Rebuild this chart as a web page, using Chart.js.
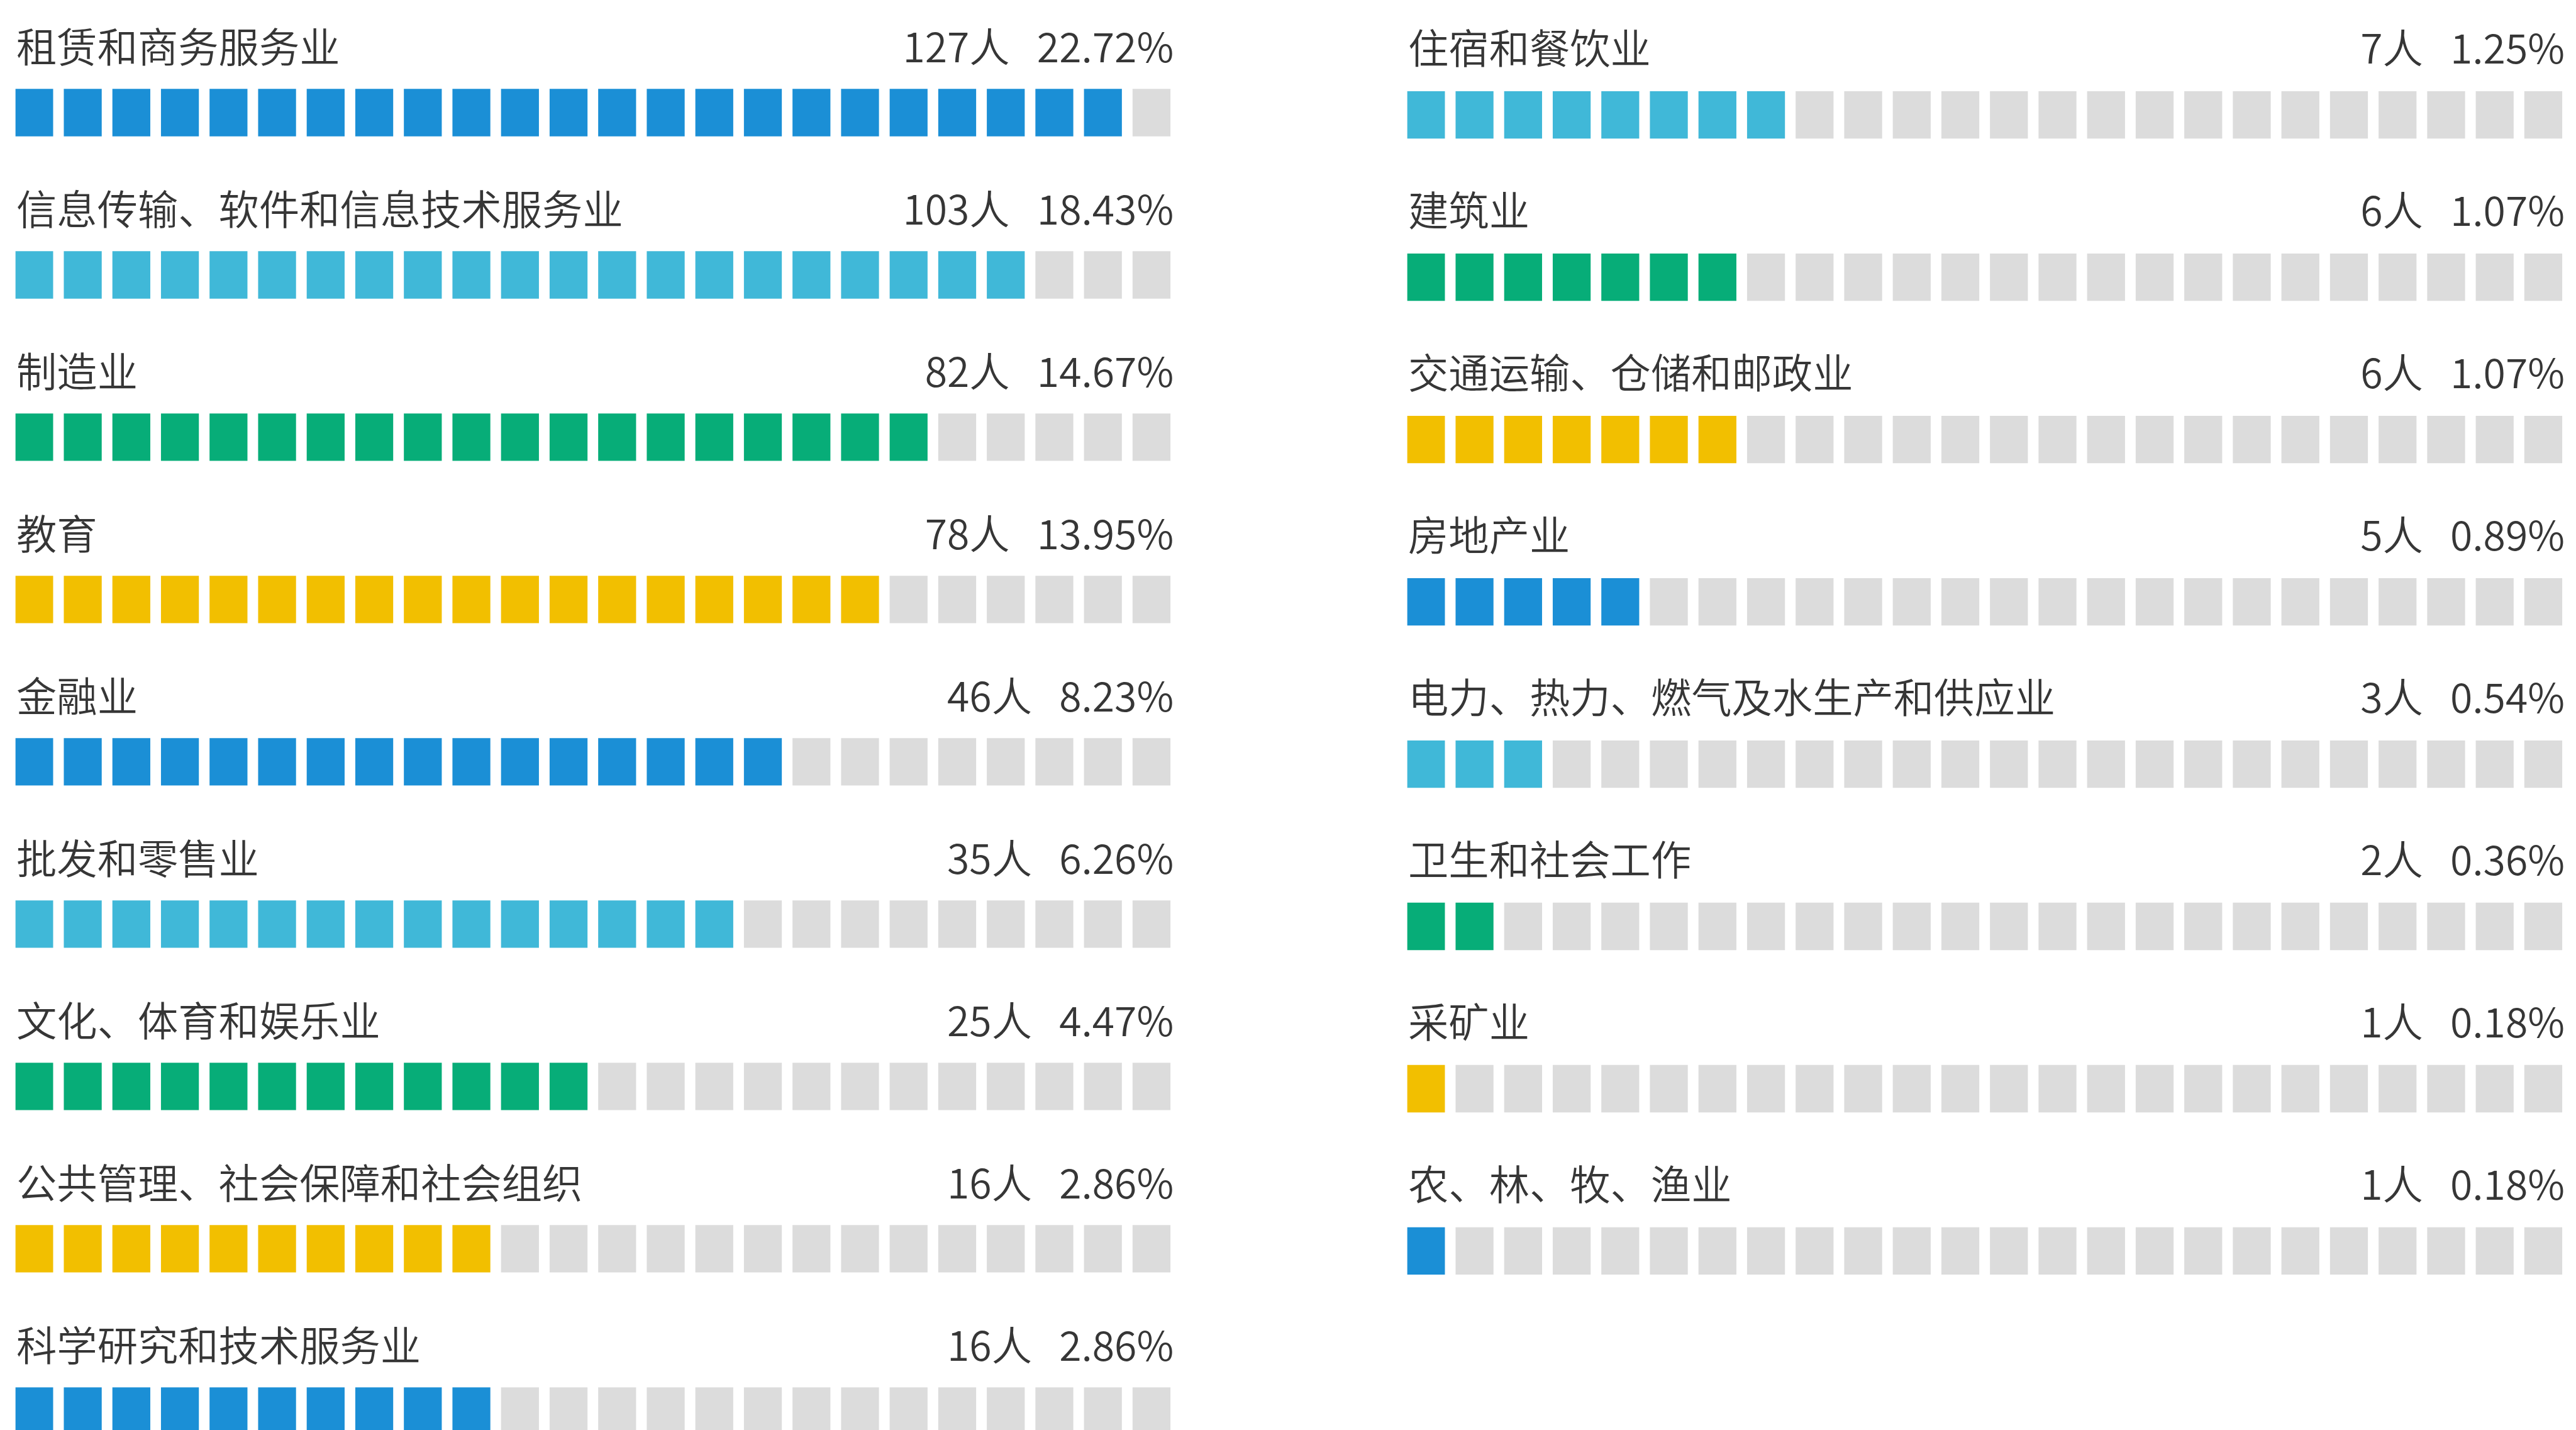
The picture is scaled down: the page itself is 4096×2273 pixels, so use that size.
<!DOCTYPE html>
<html>
<head>
<meta charset="utf-8">
<script src="https://cdn.jsdelivr.net/npm/chart.js@4.4.1/dist/chart.umd.min.js"></script>
<style>
html, body { margin: 0; padding: 0; background: #ffffff; overflow: hidden; width: 4096px; height: 2273px; }
canvas { position: absolute; top: 0; }
</style>
</head>
<body>
<canvas id="leftCol"></canvas>
<canvas id="rightCol"></canvas>
<script>
// ---------------- data ----------------
const leftLabels = ['租赁和商务服务业', '信息传输、软件和信息技术服务业', '制造业', '教育', '金融业', '批发和零售业', '文化、体育和娱乐业', '公共管理、社会保障和社会组织', '科学研究和技术服务业'];
const leftCounts = [127, 103, 82, 78, 46, 35, 25, 16, 16];
const leftPercents = [22.72, 18.43, 14.67, 13.95, 8.23, 6.26, 4.47, 2.86, 2.86];
const leftFilled = [23, 21, 19, 18, 16, 15, 12, 10, 10];

const rightLabels = ['住宿和餐饮业', '建筑业', '交通运输、仓储和邮政业', '房地产业', '电力、热力、燃气及水生产和供应业', '卫生和社会工作', '采矿业', '农、林、牧、渔业'];
const rightCounts = [7, 6, 6, 5, 3, 2, 1, 1];
const rightPercents = [1.25, 1.07, 1.07, 0.89, 0.54, 0.36, 0.18, 0.18];
const rightFilled = [8, 7, 7, 5, 3, 2, 1, 1];

const squaresPerRow = 24;
const countUnit = '人';

// ---------------- styles / geometry ----------------
const S = 0.982;
const PALETTE = ['#1b8fd6', '#40b8d8', '#07ad78', '#f2bf00'];
const EMPTY = '#dcdcdc';
const TEXT_COLOR = '#363636';
const FONT_PX = 65.5 * S;
const FONT = '350 ' + FONT_PX.toFixed(2) + 'px "Noto Sans CJK SC", "Noto Sans", sans-serif';
const UNIT_PX = 78.66 * S;          // square pitch
const SQUARE_FRAC = 60.7 / 78.66;   // square width as part of pitch
const SQ_H = 76 * S;                // square height
const BAND = 262.7 * S;             // row pitch
const PAD_LEFT = 25 * S;
const CANVAS_W = 1960;
const VALUE_GAP = 44 * S;

const columns = [
  { id: 'leftCol', left: 0, labels: leftLabels, counts: leftCounts, percents: leftPercents, filled: leftFilled,
    colorStart: 0, squareTop0: 144.3 * S, textBase0: 100.8 * S, rightPad: 5.5 * S },
  { id: 'rightCol', left: 2278.3 * S - PAD_LEFT, labels: rightLabels, counts: rightCounts, percents: rightPercents, filled: rightFilled,
    colorStart: 1, squareTop0: 148 * S, textBase0: 103 * S, rightPad: 4.3 * S }
];

const rowTextPlugin = {
  id: 'rowText',
  afterDraw(chart, args, opts) {
    const col = opts.col;
    const { ctx, scales: { x, y } } = chart;
    ctx.save();
    ctx.fillStyle = TEXT_COLOR;
    ctx.font = FONT;
    ctx.textBaseline = 'alphabetic';
    const textShift = col.squareTop0 - col.textBase0;
    col.labels.forEach((lab, r) => {
      const top = y.getPixelForValue(r) - SQ_H / 2;
      const base = top - textShift;
      ctx.textAlign = 'left';
      ctx.fillText(lab, x.getPixelForValue(0) + 1.5, base);
      const rightX = x.getPixelForValue(squaresPerRow - 1 + SQUARE_FRAC) + col.rightPad;
      const pct = col.percents[r].toFixed(2) + '%';
      ctx.textAlign = 'right';
      ctx.fillText(pct, rightX, base);
      const pw = ctx.measureText(pct).width;
      ctx.fillText(col.counts[r] + countUnit, rightX - pw - VALUE_GAP, base);
    });
    ctx.restore();
  }
};

columns.forEach(col => {
  const canvas = document.getElementById(col.id);
  const padTop = col.squareTop0 + SQ_H / 2 - BAND / 2;
  const h = Math.ceil(padTop + col.labels.length * BAND);
  canvas.width = CANVAS_W;
  canvas.height = h;
  canvas.style.width = CANVAS_W + 'px';
  canvas.style.height = h + 'px';
  canvas.style.left = col.left + 'px';

  const datasets = [];
  for (let j = 0; j < squaresPerRow; j++) {
    datasets.push({
      data: col.labels.map(() => [j, j + SQUARE_FRAC]),
      backgroundColor: col.labels.map((_, r) => j < col.filled[r] ? PALETTE[(col.colorStart + r) % PALETTE.length] : EMPTY),
      grouped: false,
      barThickness: SQ_H,
      borderWidth: 0
    });
  }

  new Chart(canvas, {
    type: 'bar',
    data: { labels: col.labels, datasets },
    options: {
      indexAxis: 'y',
      responsive: false,
      animation: false,
      events: [],
      layout: { padding: { left: PAD_LEFT, right: CANVAS_W - PAD_LEFT - squaresPerRow * UNIT_PX, top: padTop, bottom: h - padTop - col.labels.length * BAND } },
      scales: {
        x: { type: 'linear', min: 0, max: squaresPerRow, display: false },
        y: { type: 'category', display: false, offset: true }
      },
      plugins: {
        legend: { display: false },
        tooltip: { enabled: false },
        rowText: { col }
      }
    },
    plugins: [rowTextPlugin]
  });
});
</script>
</body>
</html>
